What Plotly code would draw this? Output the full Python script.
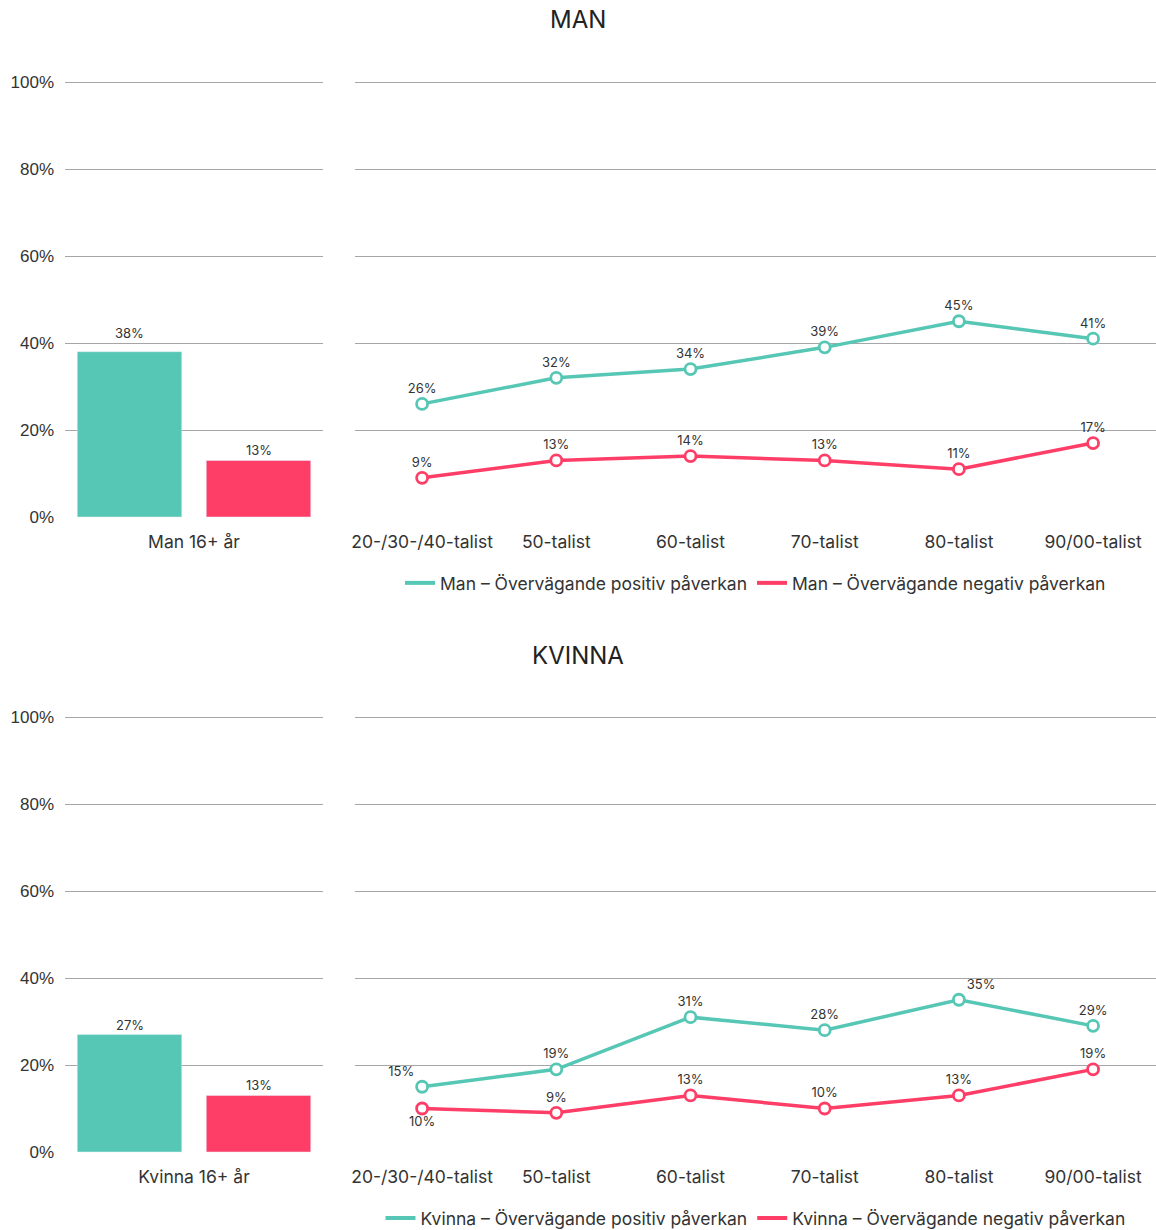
import plotly.graph_objects as go

categories = ["20-/30-/40-talist", "50-talist", "60-talist", "70-talist", "80-talist", "90/00-talist"]
man_pos = [26, 32, 34, 39, 45, 41]
man_neg = [9, 13, 14, 13, 11, 17]
kv_pos = [15, 19, 31, 28, 35, 29]
kv_neg = [10, 9, 13, 10, 13, 19]
man_total_label = ["Man 16+ år"]
man_total_pos = [38]
man_total_neg = [13]
kv_total_label = ["Kvinna 16+ år"]
kv_total_pos = [27]
kv_total_neg = [13]
man_legend = ["Man – Övervägande positiv påverkan", "Man – Övervägande negativ påverkan"]
kv_legend = ["Kvinna – Övervägande positiv påverkan", "Kvinna – Övervägande negativ påverkan"]

TEAL = "#56c7b4"
RED = "#ff3e68"
FONT = "Inter"
GRID = "#a6a6a6"
TXT = "#333333"

W, H = 1156, 1230
def px(v): return v / W
def py(v): return 1 - v / H

fig = go.Figure()
annotations = []

def pct(v): return [f"{x}%" for x in v]

def label_shift(v):
    # lift a label above a gridline it would otherwise sit on
    frac = (v % 20) / 20
    return 9 if frac > 0.85 else 0

def add_bar(xl, pos, neg, xa, ya):
    for vals, color, grp, off in ((pos, TEAL, "a", -0.25), (neg, RED, "b", 0.25)):
        fig.add_trace(go.Bar(x=xl, y=[v/100 for v in vals], marker_color=color,
                             showlegend=False, xaxis=xa, yaxis=ya, offsetgroup=grp))
        for i, v in enumerate(vals):
            annotations.append(dict(x=i + off, y=v/100, xref=xa, yref=ya, text=f"{v}%",
                                    showarrow=False, yanchor="bottom", xanchor="center",
                                    yshift=label_shift(v),
                                    font=dict(family=FONT, size=13, color=TXT)))

def add_line(vals, color, tp, xa, ya):
    fig.add_trace(go.Scatter(x=categories, y=[v/100 for v in vals], mode="lines+markers+text",
                             line=dict(color=color, width=3.5),
                             marker=dict(symbol="circle", size=11, color="white", line=dict(color=color, width=2.8)),
                             text=pct(vals), textposition=tp, textfont=dict(family=FONT, size=13, color=TXT),
                             xaxis=xa, yaxis=ya, showlegend=False, cliponaxis=False))

def add_legend_entry(name, color, legend, xa, ya):
    fig.add_trace(go.Scatter(x=[None], y=[None], mode="lines", name=name,
                             line=dict(color=color, width=4), xaxis=xa, yaxis=ya,
                             legend=legend, showlegend=True))

add_bar(man_total_label, man_total_pos, man_total_neg, "x", "y")
add_line(man_pos, TEAL, "top center", "x2", "y2")
add_line(man_neg, RED, "top center", "x2", "y2")
add_legend_entry(man_legend[0], TEAL, "legend", "x2", "y2")
add_legend_entry(man_legend[1], RED, "legend", "x2", "y2")

add_bar(kv_total_label, kv_total_pos, kv_total_neg, "x3", "y3")
kv_pos_tp = ["top left", "top center", "top center", "top center", "top right", "top center"]
kv_neg_tp = ["bottom center", "top center", "top center", "top center", "top center", "top center"]
add_line(kv_pos, TEAL, kv_pos_tp, "x4", "y4")
add_line(kv_neg, RED, kv_neg_tp, "x4", "y4")
add_legend_entry(kv_legend[0], TEAL, "legend2", "x4", "y4")
add_legend_entry(kv_legend[1], RED, "legend2", "x4", "y4")

Y_LO, Y_HI = -0.002, 1.01
PXU = 435.0  # pixels per unit (0..1)

tickfont = dict(family="Liberation Sans", size=17, color=TXT)
yax_common = dict(range=[Y_LO, Y_HI], tickvals=[0, 0.2, 0.4, 0.6, 0.8, 1.0], tickformat=".0%",
                  showgrid=True, gridcolor=GRID, gridwidth=1, zeroline=False,
                  showline=False, fixedrange=True, ticklabelstandoff=10)
xax_common = dict(showgrid=False, showline=False, zeroline=False, ticks="", ticklabelstandoff=12,
                  tickfont=dict(family=FONT, size=17.5, color=TXT), fixedrange=True)

def ydom(zero_px):
    return [py(zero_px - Y_LO * PXU), py(zero_px - Y_HI * PXU)]

bar_x = [px(65), px(323)]
line_x = [px(355), 1.0]
line_range = [-0.5, -0.5 + (1156 - 355) / 134.2]
top_y = ydom(517)
bot_y = ydom(1152)

legfont = dict(family=FONT, size=17.5, color=TXT)

fig.update_layout(
    width=W, height=H,
    margin=dict(l=0, r=0, t=0, b=0, autoexpand=False),
    paper_bgcolor="white", plot_bgcolor="white",
    font=dict(family=FONT, size=13, color=TXT),
    barmode="group", bargap=0.0, bargroupgap=0.19,
    xaxis=dict(domain=bar_x, anchor="y", **xax_common),
    yaxis=dict(domain=top_y, anchor="x", showticklabels=True, tickfont=tickfont, **yax_common),
    xaxis2=dict(domain=line_x, anchor="y2", range=line_range, **xax_common),
    yaxis2=dict(domain=top_y, anchor="x2", showticklabels=False, **yax_common),
    xaxis3=dict(domain=bar_x, anchor="y3", **xax_common),
    yaxis3=dict(domain=bot_y, anchor="x3", showticklabels=True, tickfont=tickfont, **yax_common),
    xaxis4=dict(domain=line_x, anchor="y4", range=line_range, **xax_common),
    yaxis4=dict(domain=bot_y, anchor="x4", showticklabels=False, **yax_common),
    legend=dict(orientation="h", x=(355 + 1156) / 2 / W, xanchor="center", y=py(583), yanchor="middle",
                font=legfont, itemwidth=30),
    legend2=dict(orientation="h", x=(355 + 1156) / 2 / W, xanchor="center", y=py(1218), yanchor="middle",
                 font=legfont, itemwidth=30),
    annotations=annotations + [
        dict(text="MAN", x=0.5, y=py(20), xref="paper", yref="paper", showarrow=False,
             font=dict(family=FONT, size=24, color="#222222"), xanchor="center", yanchor="middle"),
        dict(text="KVINNA", x=0.5, y=py(655), xref="paper", yref="paper", showarrow=False,
             font=dict(family=FONT, size=24, color="#222222"), xanchor="center", yanchor="middle"),
    ],
)

fig.write_html("out.html", config={"displayModeBar": False},
               post_script="document.body.style.margin='0';document.body.style.overflow='hidden';")
